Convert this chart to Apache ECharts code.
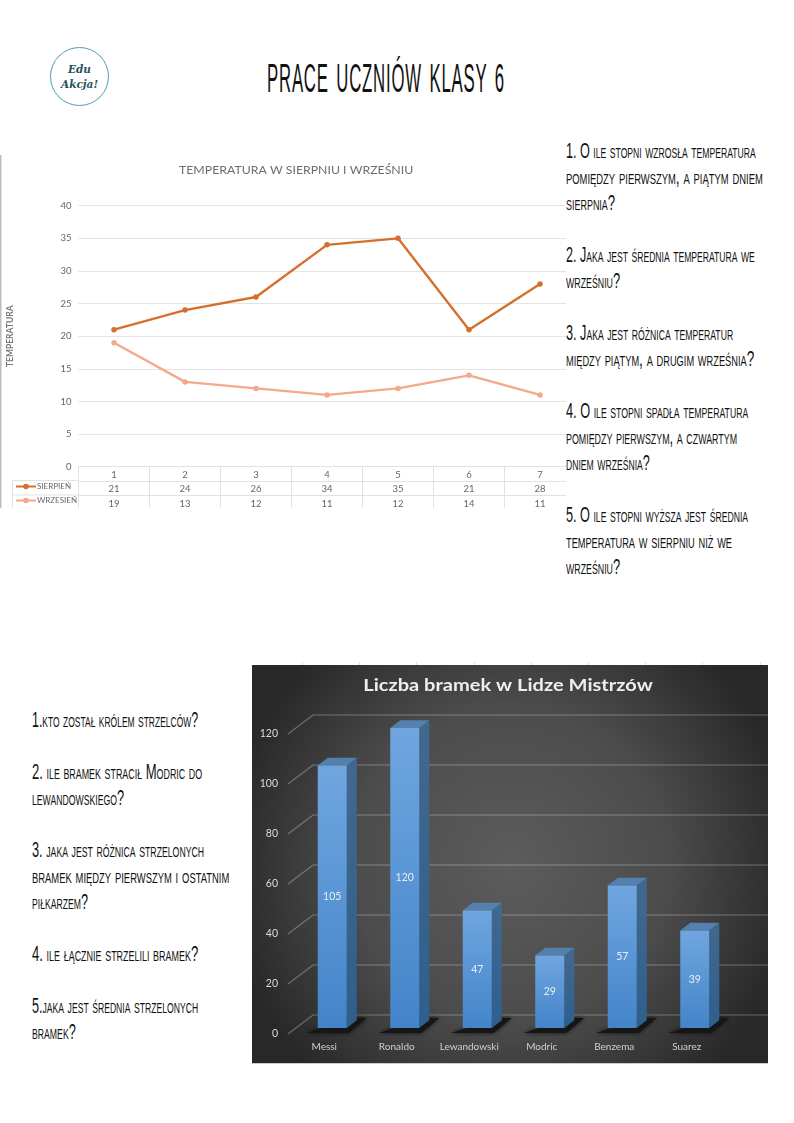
<!DOCTYPE html>
<html lang="pl"><head><meta charset="utf-8">
<script src="https://cdn.jsdelivr.net/npm/echarts@6/dist/echarts.min.js"></script>
<style>
html,body{margin:0;padding:0;background:#fff}
#page{position:relative;width:794px;height:1123px;overflow:hidden;background:#fff}
.t{position:absolute;white-space:nowrap;transform-origin:0 50%;color:#111;font-family:"Liberation Sans Narrow","Liberation Sans",sans-serif;font-variant:small-caps;font-size:22px;line-height:24px}
#lineClip{position:absolute;left:0;top:155px;width:566px;height:353px;overflow:hidden}
#line{position:absolute;left:0;top:0;width:600px;height:353px}
#bar{position:absolute;left:252px;top:665px;width:516px;height:398px}
#ticks{position:absolute;left:302px;top:662px;width:466px;height:3px;background:repeating-linear-gradient(90deg,#ddd 0 1px,transparent 1px 57.2px)}
#edge{position:absolute;left:252px;top:1063px;width:516px;height:1px;background:#ccc}
#logo{position:absolute;left:50px;top:47px;width:57px;height:57px;border:1.5px solid #4b9fb0;border-radius:50%;text-align:center;color:#1f5560;font:italic bold 10.5px/15px "DejaVu Serif",serif;display:flex;align-items:center;justify-content:center}
</style></head><body>
<div id="page">
<div id="logo"><span>Edu<br>Akcja!</span></div>
<div id="lineClip"><div id="line"></div></div>
<div id="ticks"></div>
<div id="bar"></div>
<div id="edge"></div>
</div>
<script>
// Line chart data
const days = ['1','2','3','4','5','6','7'];
const sierpien = [21,24,26,34,35,21,28];
const wrzesien = [19,13,12,11,12,14,11];
// Bar chart data
const players = ['Messi','Ronaldo','Lewandowski','Modric','Benzema','Suarez'];
const goals = [105,120,47,29,57,39];
const goalTicks = [0,20,40,60,80,100,120];
// Worksheet text
const pageTitle = 'PRACE UCZNIÓW KLASY 6';
const rightLines = [
 ['1. O ile stopni wzrosła temperatura',190,151],['pomiędzy pierwszym, a piątym dniem',197,177],['sierpnia?',49,203],
 ['2. Jaka jest średnia temperatura we',189,255],['wrześniu?',54,281],
 ['3. Jaka jest różnica temperatur',167,333],['między piątym, a drugim września?',188,359],
 ['4. O ile stopni spadła temperatura',182,411],['pomiędzy pierwszym, a czwartym',171,437],['dniem września?',84,463],
 ['5. O ile stopni wyższa jest średnia',182,515],['temperatura w sierpniu niż we',166,541],['wrześniu?',54,567]];
const leftLines = [
 ['1.kto został królem strzelców?',166,720],
 ['2. ile bramek stracił Modric do',170,772],['lewandowskiego?',92,798],
 ['3. jaka jest różnica strzelonych',172,850],['bramek między pierwszym i ostatnim',197,876],['piłkarzem?',56,902],
 ['4. ile łącznie strzelili bramek?',166,954],
 ['5.jaka jest średnia strzelonych',166,1006],['bramek?',44,1032]];

const page = document.getElementById('page');
function addText(s, x, cy, w, size){
  const d = document.createElement('div');
  d.className = 't'; d.textContent = s;
  d.style.left = x+'px'; d.style.top = (cy-12)+'px';
  if(size){d.style.fontSize=size+'px';d.style.fontVariant='normal';d.style.letterSpacing='2px';d.style.wordSpacing='5px';}
  page.appendChild(d);
  d.style.transform = 'scaleX('+(w/d.offsetWidth)+')';
}
rightLines.forEach(l=>addText(l[0],566,l[2],l[1]));
leftLines.forEach(l=>addText(l[0],32,l[2],l[1]));
addText(pageTitle,267,78,238,41);

// ---- line chart
const ROW = 14.4;
const FONT = 'Lato';
const tableAxis = (data, offset) => ({
  type:'category', data:data.map(String), position:'bottom', offset, gridIndex:0,
  axisLine:{show:true,lineStyle:{color:'#e2e2e2'}},
  axisTick:{show:true,length:ROW,alignWithLabel:false,lineStyle:{color:'#e2e2e2'}},
  axisLabel:{color:'#666',fontSize:9.5,margin:3,fontFamily:FONT,interval:0},
  splitLine:{show:false}
});
const lineChart = echarts.init(document.getElementById('line'));
lineChart.setOption({
  animation:false,
  title:{text:'TEMPERATURA W SIERPNIU I WRZEŚNIU',left:174,top:4,textStyle:{color:'#6d6d6d',fontSize:12.3,fontWeight:'normal',fontFamily:FONT}},
  grid:{left:78.5,top:50.7,width:497,height:261,outerBoundsMode:'none'},
  legend:{orient:'vertical',left:15,top:327.5,itemWidth:20,itemHeight:7,itemGap:6,padding:0,
    textStyle:{color:'#666',fontSize:8,fontFamily:FONT,padding:[0,0,0,-4]},
    data:['SIERPIEŃ','WRZESIEŃ']},
  xAxis:[tableAxis(days,0),tableAxis(sierpien,ROW),tableAxis(wrzesien,ROW*2)],
  yAxis:{type:'value',min:0,max:40,interval:5,name:'TEMPERATURA',nameLocation:'middle',nameRotate:90,nameGap:64,
    nameTextStyle:{color:'#777',fontSize:8.5,fontWeight:'bold',fontFamily:FONT},
    axisLine:{show:false},axisTick:{show:false},
    axisLabel:{color:'#666',fontSize:9.5,margin:7,fontFamily:FONT},
    splitLine:{lineStyle:{color:'#e4e4e4'}}},
  series:[
    {name:'SIERPIEŃ',type:'line',data:sierpien,xAxisIndex:0,symbol:'circle',symbolSize:5.5,lineStyle:{width:2.4,color:'#d4702c'},itemStyle:{color:'#d4702c'}},
    {name:'WRZESIEŃ',type:'line',data:wrzesien,xAxisIndex:0,symbol:'circle',symbolSize:5.5,lineStyle:{width:2.4,color:'#f3a98a'},itemStyle:{color:'#f3a98a'}}
  ],
  graphic:[
    {type:'line',shape:{x1:0.5,y1:0,x2:0.5,y2:353},style:{stroke:'#bdbdbd',lineWidth:2}},
    {type:'polyline',shape:{points:[[78.5,325.5],[12.5,325.5],[12.5,353]]},style:{stroke:'#e2e2e2',fill:null}},
    {type:'line',shape:{x1:12.5,y1:340,x2:78.5,y2:340},style:{stroke:'#e2e2e2'}}
  ]
});

// ---- 3D column chart
const BACK_DX = 25, BACK_DY = -19;      // back wall relative to the front of the floor
const BAR_DX = 8, BAR_DY = -6, BAR_W = 29, SIDE_DX = 10, SIDE_DY = -7.7;
const grad = (a,b)=>({type:'linear',x:0,y:0,x2:0,y2:1,colorStops:[{offset:0,color:a},{offset:1,color:b}]});

function renderWall(params, api){
  const p = api.coord([0, api.value(1)]);
  const band = api.size([1,0])[0];
  const x = p[0]-band/2, y = p[1];
  const style = {stroke:'rgba(255,255,255,0.30)',lineWidth:1.2,fill:null};
  return {type:'polyline',silent:true,shape:{points:[[x,y],[x+BACK_DX,y+BACK_DY],[x+BACK_DX+600,y+BACK_DY]]},style};
}
function renderBar(params, api){
  const v = api.value(1);
  const c = api.coord([api.value(0), v]), o = api.coord([api.value(0), 0]);
  const L = c[0]+BAR_DX-BAR_W/2, R = L+BAR_W, T = c[1]+BAR_DY, B = o[1]+BAR_DY;
  return {type:'group',children:[
    {type:'polygon',silent:true,shape:{points:[[L-12,B+5],[R+2,B+5],[R+20,B-10],[R+8,B-10]]},
      style:{fill:'#161616',shadowBlur:4,shadowColor:'#111'}},
    {type:'polygon',silent:true,shape:{points:[[R,T],[R+SIDE_DX,T+SIDE_DY],[R+SIDE_DX,B+SIDE_DY],[R,B]]},
      style:{fill:grad('#42688f','#2e5f8e')}},
    {type:'polygon',silent:true,shape:{points:[[L,T],[L+SIDE_DX,T+SIDE_DY],[R+SIDE_DX,T+SIDE_DY],[R,T]]},
      style:{fill:'#5480ad'}},
    {type:'rect',silent:true,shape:{x:L,y:T,width:BAR_W,height:B-T},style:{fill:grad('#70a6e0','#4384c9')}},
    {type:'text',silent:true,style:{text:String(v),x:(L+R)/2,y:(T+B)/2,align:'center',verticalAlign:'middle',fill:'#e8eef5',fontSize:10.5,fontFamily:FONT}}
  ]};
}
const barChart = echarts.init(document.getElementById('bar'));
barChart.setOption({
  animation:false,
  backgroundColor:{type:'radial',x:0.5,y:0.5,r:0.72,colorStops:[{offset:0,color:'#5c5c5c'},{offset:0.55,color:'#4c4c4c'},{offset:1,color:'#282828'}]},
  grid:{left:36,top:69,width:435,height:300,outerBoundsMode:'none'},
  xAxis:{type:'category',data:players,axisLine:{show:false},axisTick:{show:false},
    axisLabel:{color:'#d0d0d0',fontSize:10,margin:8,fontFamily:FONT,interval:0}},
  yAxis:{type:'value',min:0,max:120,interval:20,splitLine:{show:false},axisLine:{show:false},axisTick:{show:false},
    axisLabel:{color:'#dcdcdc',fontSize:10.5,margin:10,fontFamily:FONT}},
  series:[
    {type:'custom',renderItem:renderWall,clip:false,data:goalTicks.map(v=>[0,v]),encode:{x:0,y:1},z:1},
    {type:'custom',renderItem:renderBar,clip:false,data:goals.map((v,i)=>[i,v]),encode:{x:0,y:1},z:2}
  ],
  graphic:[{type:'text',x:256,y:21,scaleX:1.18,style:{text:'Liczba bramek w Lidze Mistrzów',align:'center',verticalAlign:'middle',fill:'#eeeeee',fontSize:17,fontWeight:'bold',fontFamily:FONT}}]
});
</script>
</body></html>
